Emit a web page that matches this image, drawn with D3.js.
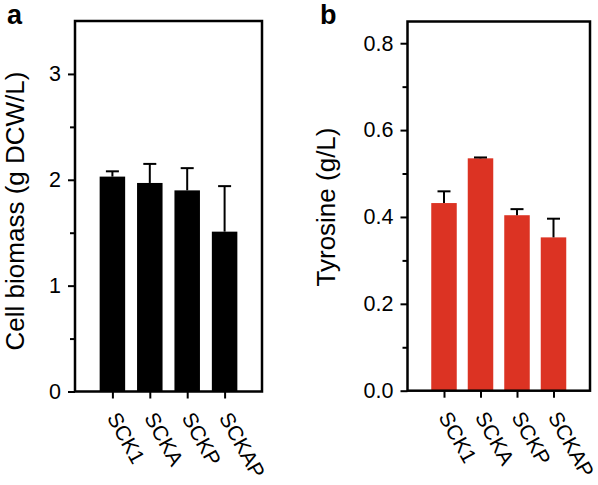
<!DOCTYPE html>
<html><head><meta charset="utf-8">
<script src="https://cdn.jsdelivr.net/npm/d3@7"></script>
<style>
html,body{margin:0;padding:0;background:#fff;}
text{font-family:"Liberation Sans",Arial,Helvetica,sans-serif;fill:#000;}
</style></head>
<body>
<svg id="chart" width="598" height="485"></svg>
<script>
// ---- data ----
const strains = ["SCK1", "SCKA", "SCKP", "SCKAP"];
const biomass = [2.03, 1.97, 1.90, 1.51];
const biomassErr = [0.05, 0.18, 0.21, 0.43];
const tyrosine = [0.432, 0.535, 0.404, 0.353];
const tyrosineErr = [0.027, 0.002, 0.014, 0.043];
const biomassTicks = [0, 1, 2, 3];
const biomassMinor = [0.5, 1.5, 2.5];
const tyrosineTicks = [0, 0.2, 0.4, 0.6, 0.8];
const tyrosineMinor = [0.1, 0.3, 0.5, 0.7];

const svg = d3.select("#chart");

function panel(cfg) {
  const g = svg.append("g");
  const x = d3.scalePoint().domain(cfg.cats).range([cfg.x0, cfg.x1]).padding(1);
  const y = d3.scaleLinear().domain(cfg.domain).range([cfg.yb, cfg.yt]);
  const bw = 25.5;

  // bars
  g.selectAll("rect.bar").data(cfg.vals).enter().append("rect")
    .attr("x", (d, i) => x(cfg.cats[i]) - bw / 2)
    .attr("width", bw)
    .attr("y", d => y(d))
    .attr("height", d => y(0) - y(d))
    .attr("fill", cfg.color);

  // error bars
  const eg = g.append("g").attr("stroke", "#000").attr("stroke-width", 2);
  cfg.vals.forEach((v, i) => {
    const cx = x(cfg.cats[i]);
    eg.append("line").attr("x1", cx).attr("x2", cx).attr("y1", y(v)).attr("y2", y(v + cfg.errs[i]));
    eg.append("line").attr("x1", cx - 6.5).attr("x2", cx + 6.5)
      .attr("y1", y(v + cfg.errs[i])).attr("y2", y(v + cfg.errs[i]));
  });

  // y axis (major)
  const ya = g.append("g").attr("transform", `translate(${cfg.x0},0)`)
    .call(d3.axisLeft(y).tickValues(cfg.ticks).tickFormat(cfg.fmt).tickSize(7).tickSizeOuter(0).tickPadding(7));
  ya.select(".domain").remove();
  ya.selectAll(".tick line").attr("stroke", "#000").attr("stroke-width", 2);
  ya.selectAll(".tick text").attr("font-size", 21.5).attr("font-family", '"Liberation Sans",Arial,sans-serif');
  // minor ticks
  const ym = g.append("g").attr("transform", `translate(${cfg.x0},0)`)
    .call(d3.axisLeft(y).tickValues(cfg.minor).tickFormat("").tickSize(5).tickSizeOuter(0));
  ym.select(".domain").remove();
  ym.selectAll(".tick line").attr("stroke", "#000").attr("stroke-width", 2);

  // x axis
  const xa = g.append("g").attr("transform", `translate(0,${cfg.yb})`)
    .call(d3.axisBottom(x).tickSize(7).tickSizeOuter(0).tickFormat(""));
  xa.select(".domain").remove();
  xa.selectAll(".tick line").attr("stroke", "#000").attr("stroke-width", 2);
  xa.selectAll(".tick").append("text")
    .attr("transform", "translate(-6.5,26) rotate(61)")
    .attr("text-anchor", "start")
    .attr("font-size", 21)
    .attr("font-family", '"Liberation Sans",Arial,sans-serif')
    .text(d => d);

  // frame
  g.append("rect").attr("x", cfg.x0).attr("y", cfg.yt)
    .attr("width", cfg.x1 - cfg.x0).attr("height", cfg.yb - cfg.yt)
    .attr("fill", "none").attr("stroke", "#000").attr("stroke-width", 2.5);

  // y label
  g.append("text")
    .attr("transform", `translate(${cfg.lx},${cfg.ly}) rotate(-90)`)
    .attr("text-anchor", "middle")
    .attr("font-size", 26)
    .text(cfg.label);

  // panel letter
  g.append("text").attr("x", cfg.px).attr("y", 24)
    .attr("font-size", 27).attr("font-weight", "bold").text(cfg.letter);
}

panel({cats: strains, vals: biomass, errs: biomassErr, ticks: biomassTicks, minor: biomassMinor,
  domain: [0, 3.5], fmt: d3.format("d"), color: "#000",
  x0: 75, x1: 262, yt: 21, yb: 391.5, lx: 24, ly: 211,
  label: "Cell biomass (g DCW/L)", letter: "a", px: 7});

panel({cats: strains, vals: tyrosine, errs: tyrosineErr, ticks: tyrosineTicks, minor: tyrosineMinor,
  domain: [0, 0.85], fmt: d3.format(".1f"), color: "#DC3323",
  x0: 407.5, x1: 590, yt: 21.5, yb: 390.7, lx: 335, ly: 207,
  label: "Tyrosine (g/L)", letter: "b", px: 320});
</script>
</body></html>
